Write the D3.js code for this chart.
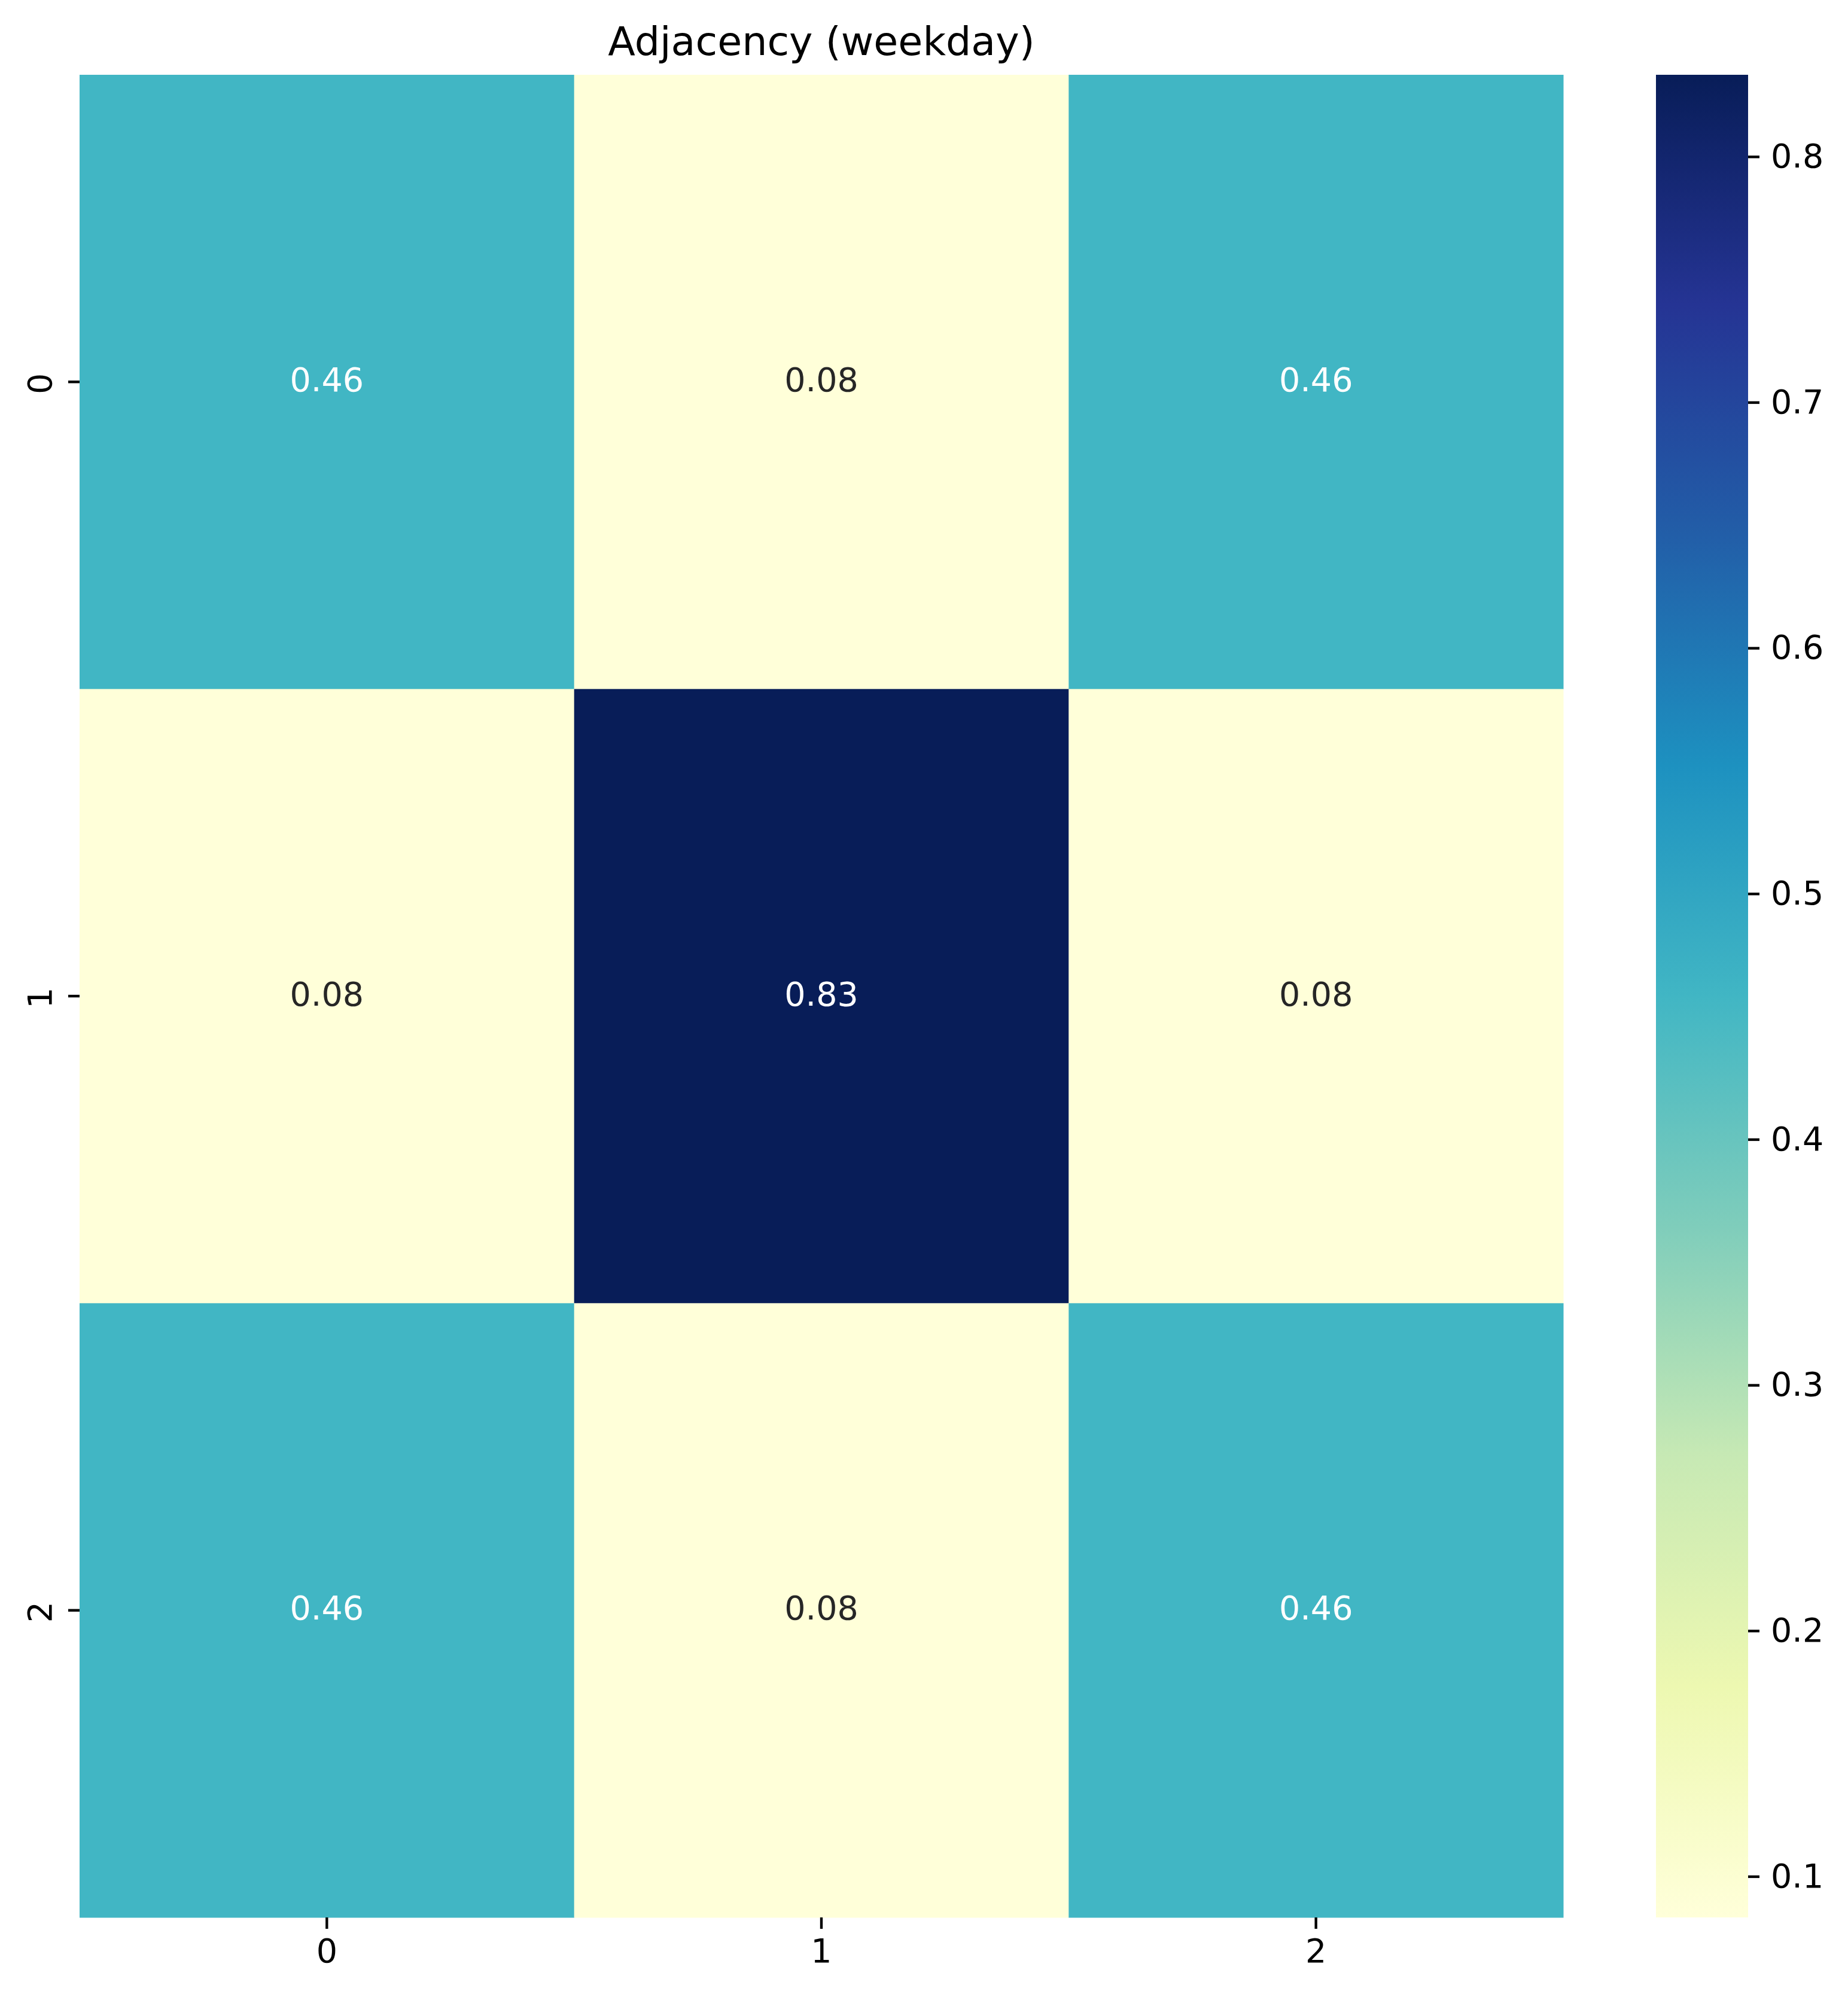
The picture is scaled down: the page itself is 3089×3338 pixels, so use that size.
<!DOCTYPE html>
<html>
<head>
<meta charset="utf-8">
<script src="https://cdn.jsdelivr.net/npm/d3@7"></script>
<style>
  body { margin: 0; background: #fff; }
  text { font-family: "DejaVu Sans", sans-serif; }
</style>
</head>
<body>
<div id="viz"></div>
<script>
const title = "Adjacency (weekday)";
const rowLabels = ["0", "1", "2"];
const colLabels = ["0", "1", "2"];
const values = [
    [0.4583, 0.0833, 0.4583],
    [0.0833, 0.8333, 0.0833],
    [0.4583, 0.0833, 0.4583]
];
const colorbarTicks = [0.1, 0.2, 0.3, 0.4, 0.5, 0.6, 0.7, 0.8];
const palette = ["#ffffd9", "#edf8b1", "#c7e9b4", "#7fcdbb", "#41b6c4", "#1d91c0", "#225ea8", "#253494", "#081d58"];

document.addEventListener("DOMContentLoaded", () => {
    const width = 3089;
    const height = 3338;
    const plot = { left: 133, right: 2613, top: 125, bottom: 3205 };
    const bar = { left: 2768, right: 2922 };
    const fontSize = 55.5;
    const tickLen = 19;

    const svg = d3.select('#viz').append('svg')
        .attr('width', width)
        .attr('height', height);

    const flat = values.flat();
    const vmin = d3.min(flat), vmax = d3.max(flat);

    const colorScale = d3.scaleLinear()
        .domain(palette.map((c, i) => vmin + (vmax - vmin) * i / (palette.length - 1)))
        .range(palette)
        .interpolate(d3.interpolateRgb);

    const x = d3.scaleBand().domain(colLabels).range([plot.left, plot.right]);
    const y = d3.scaleBand().domain(rowLabels).range([plot.top, plot.bottom]);

    const cells = [];
    values.forEach((row, i) => row.forEach((v, j) => cells.push({ r: rowLabels[i], c: colLabels[j], v })));

    svg.selectAll('rect.cell')
        .data(cells)
        .enter()
        .append('rect')
        .attr('class', 'cell')
        .attr('x', d => x(d.c))
        .attr('y', d => y(d.r))
        .attr('width', x.bandwidth() + 0.5)
        .attr('height', y.bandwidth() + 0.5)
        .attr('fill', d => colorScale(d.v));

    // relative luminance, as seaborn does it
    const lin = v => {
        v = v / 255;
        return v <= 0.03928 ? v / 12.92 : Math.pow((v + 0.055) / 1.055, 2.4);
    };
    const luminance = col => {
        const c = d3.rgb(col);
        return 0.2126 * lin(c.r) + 0.7152 * lin(c.g) + 0.0722 * lin(c.b);
    };

    svg.selectAll('text.annot')
        .data(cells)
        .enter()
        .append('text')
        .attr('class', 'annot')
        .attr('x', d => x(d.c) + x.bandwidth() / 2)
        .attr('y', d => y(d.r) + y.bandwidth() / 2 - 4)
        .attr('text-anchor', 'middle')
        .attr('dominant-baseline', 'central')
        .attr('font-size', fontSize)
        .attr('fill', d => luminance(colorScale(d.v)) > 0.408 ? '#262626' : '#ffffff')
        .text(d => d3.format('.2f')(d.v));

    // x axis
    const xAxis = svg.append('g')
        .attr('transform', `translate(0,${plot.bottom})`)
        .call(d3.axisBottom(x).tickSize(tickLen).tickPadding(17));
    xAxis.select('.domain').remove();
    xAxis.selectAll('line').attr('stroke', '#000').attr('stroke-width', 4.4);
    xAxis.selectAll('text').attr('font-size', fontSize).attr('fill', '#000')
        .attr('font-family', '"DejaVu Sans", sans-serif');

    // y axis, labels rotated
    const yAxis = svg.append('g')
        .attr('transform', `translate(${plot.left},0)`)
        .call(d3.axisLeft(y).tickSize(tickLen).tickFormat(''));
    yAxis.select('.domain').remove();
    yAxis.selectAll('line').attr('stroke', '#000').attr('stroke-width', 4.4);
    svg.selectAll('text.ylab')
        .data(rowLabels)
        .enter()
        .append('text')
        .attr('class', 'ylab')
        .attr('transform', d => `translate(86,${y(d) + y.bandwidth() / 2 + 3}) rotate(-90)`)
        .attr('text-anchor', 'middle')
        .attr('font-size', fontSize)
        .attr('fill', '#000')
        .text(d => d);

    // title
    svg.append('text')
        .attr('x', (plot.left + plot.right) / 2)
        .attr('y', 92)
        .attr('text-anchor', 'middle')
        .attr('font-size', 66.7)
        .attr('fill', '#000')
        .text(title);

    // colorbar
    const grad = svg.append('defs').append('linearGradient')
        .attr('id', 'cbar')
        .attr('x1', 0).attr('y1', 1).attr('x2', 0).attr('y2', 0);
    grad.selectAll('stop')
        .data(palette)
        .enter()
        .append('stop')
        .attr('offset', (d, i) => i / (palette.length - 1))
        .attr('stop-color', d => d);

    svg.append('rect')
        .attr('x', bar.left)
        .attr('y', plot.top)
        .attr('width', bar.right - bar.left)
        .attr('height', plot.bottom - plot.top)
        .attr('fill', 'url(#cbar)');

    const cScale = d3.scaleLinear().domain([vmin, vmax]).range([plot.bottom, plot.top]);
    const cAxis = svg.append('g')
        .attr('transform', `translate(${bar.right},0)`)
        .call(d3.axisRight(cScale).tickValues(colorbarTicks).tickFormat(d3.format('.1f')).tickSize(tickLen).tickPadding(19));
    cAxis.select('.domain').remove();
    cAxis.selectAll('line').attr('stroke', '#000').attr('stroke-width', 4.4);
    cAxis.selectAll('text').attr('font-size', fontSize).attr('fill', '#000')
        .attr('font-family', '"DejaVu Sans", sans-serif');
});
</script>
</body>
</html>
